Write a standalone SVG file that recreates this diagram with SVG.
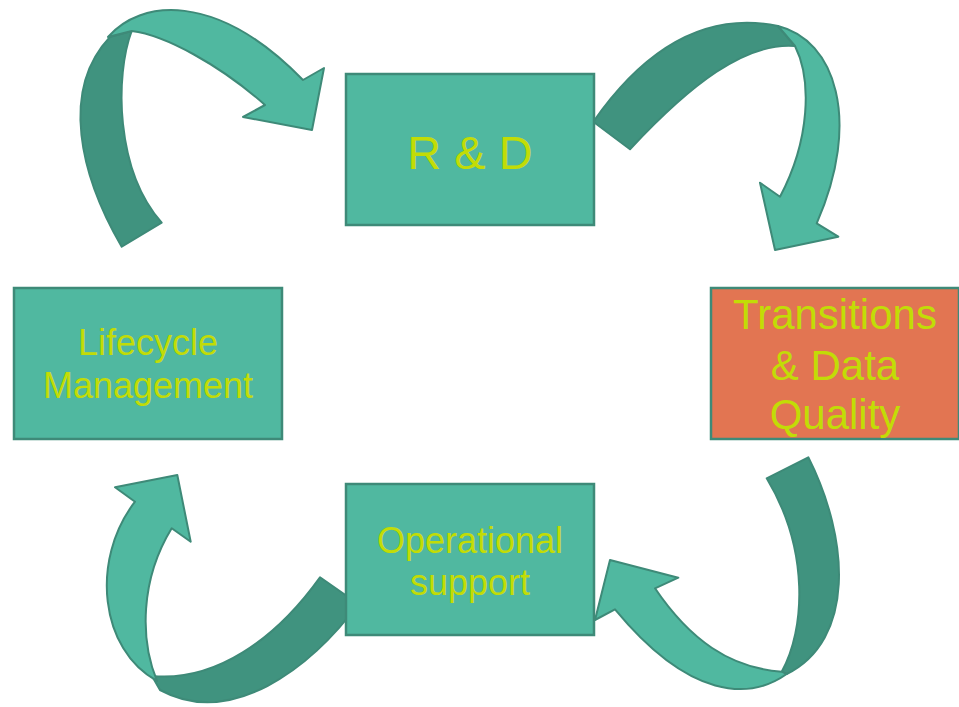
<svg xmlns="http://www.w3.org/2000/svg" width="959" height="707" viewBox="0 0 959 707">
<style>
.box{fill:#50B8A0;stroke:#3E8A78;stroke-width:2.5}
.hot{fill:#E27552}
.lbl{font-family:"Liberation Sans",Arial,sans-serif;fill:#C2DC06;text-anchor:middle}
.lt{fill:#50B8A0;stroke:#3E8A78;stroke-width:2;stroke-linejoin:round}
.dk{fill:#40937F;stroke:#3E8A78;stroke-width:2;stroke-linejoin:round}
</style>
<rect width="959" height="707" fill="#FFFFFF"/>
<g id="connectors">
  <g id="arrow-lifecycle-rd">
    <path class="dk" d="M121.7,246.7 C80,175 60,90 110,37 L131.7,31 C115,75 115,170 161.7,222.7 Z"/>
    <path class="lt" d="M108,37 C140,0 215,-10 303,80 L324,68 L312,130 L243,117 L265,105 C220,65 165,35 131.7,31 Z"/>
  </g>
  <g id="arrow-rd-transitions">
    <path class="dk" d="M593.3,121.7 C640,55 700,10 778,26 L795,46 C745,42 690,85 630,149.3 Z"/>
    <path class="lt" d="M778,26 C835,40 862,120 816.7,223.3 L838.3,236.7 L775,250 L760,182.7 L780,196.7 C810,140 812,80 795,46 Z"/>
  </g>
  <g id="arrow-transitions-ops">
    <path class="dk" d="M766.7,478.3 L808.3,457.3 C850,540 855,640 786.7,674 L781.7,671.7 C805,630 810,550 766.7,478.3 Z"/>
    <path class="lt" d="M786.7,674 C750,700 690,700 615,609.3 L595,620 L610,560 L678.3,577.7 L655,588.3 C690,640 730,668 781.7,671.7 Z"/>
  </g>
  <g id="arrow-ops-lifecycle">
    <path class="dk" d="M320,577.3 L358.3,604 C310,670 230,728 160,690 L152,676 C215,682 275,640 320,577.3 Z"/>
    <path class="lt" d="M157,681 C100,650 90,560 135,501.7 L115,487.3 L177.3,475 L190.7,541.7 L171.7,528.3 C140,580 140,640 157,681 Z"/>
  </g>
</g>
<g id="node-rd">
  <rect class="box" x="346" y="74" width="248" height="151"/>
  <text class="lbl" x="470" y="169" font-size="47">R &amp; D</text>
</g>
<g id="node-lifecycle">
  <rect class="box" x="14" y="288" width="268" height="151"/>
  <text class="lbl" x="148" y="355" font-size="36">Lifecycle</text>
  <text class="lbl" x="148" y="398" font-size="36">Management</text>
</g>
<g id="node-transitions">
  <rect class="box hot" x="711" y="288" width="248" height="151"/>
  <text class="lbl" x="835" y="329" font-size="42">Transitions</text>
  <text class="lbl" x="835" y="380" font-size="42">&amp; Data</text>
  <text class="lbl" x="835" y="429" font-size="42">Quality</text>
</g>
<g id="node-ops">
  <rect class="box" x="346" y="484" width="248" height="151"/>
  <text class="lbl" x="470" y="553" font-size="36">Operational</text>
  <text class="lbl" x="470" y="595" font-size="36">support</text>
</g>
</svg>
